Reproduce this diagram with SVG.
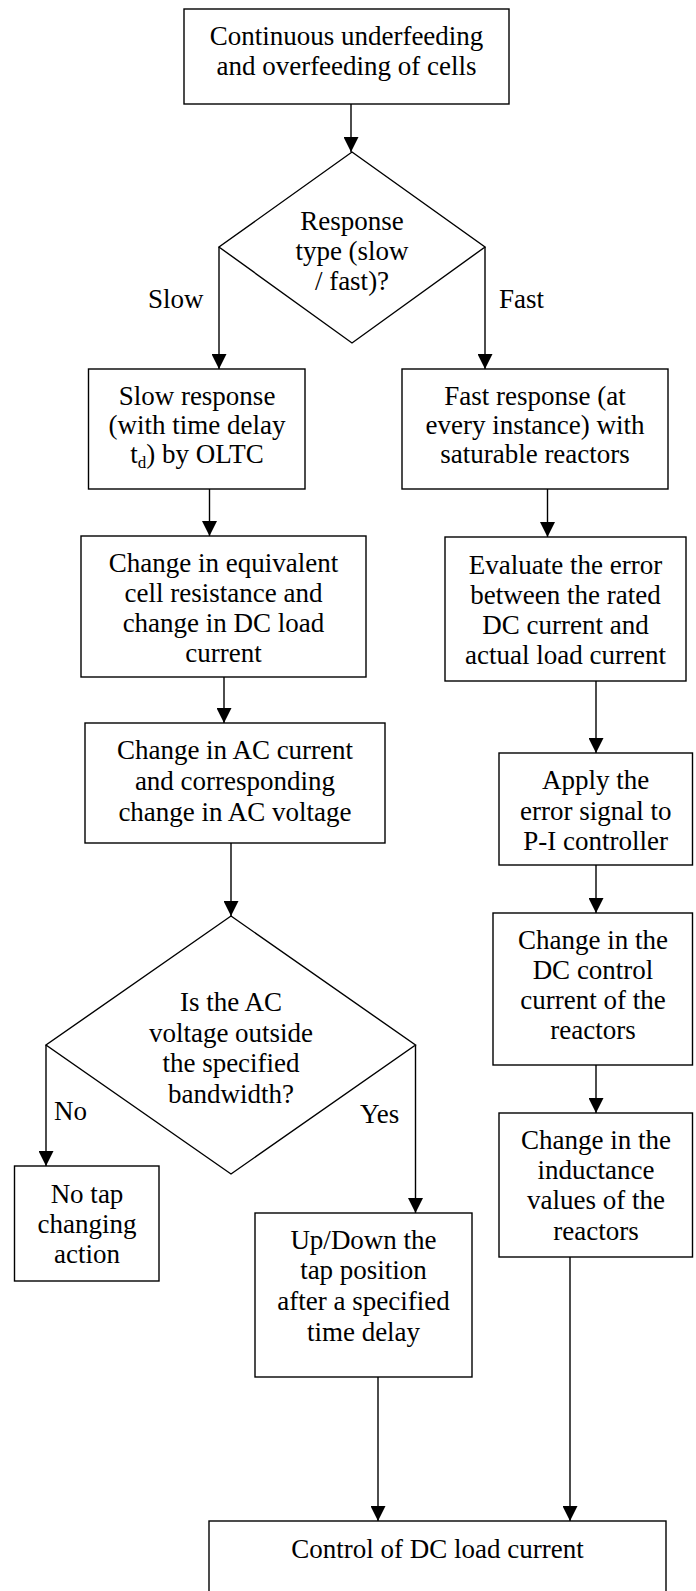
<svg xmlns="http://www.w3.org/2000/svg" width="696" height="1591" viewBox="0 0 696 1591">
<defs>
<marker id="arr" markerUnits="userSpaceOnUse" markerWidth="15" markerHeight="15" refX="15" refY="7.5" orient="auto">
<path d="M0,0 L15,7.5 L0,15 z" fill="#000"/>
</marker>
<style>
.box{fill:#fff;stroke:#000;stroke-width:1.4}
.t{font-family:"Liberation Serif","Times New Roman",serif;font-size:27px;fill:#000;text-anchor:middle}
.l{font-family:"Liberation Serif","Times New Roman",serif;font-size:27px;fill:#000}
.c{fill:none;stroke:#000;stroke-width:1.4}
</style>
</defs>
<rect width="696" height="1591" fill="#fff"/>
<g id="connectors">
<line class="c" x1="351" y1="104" x2="351" y2="152" marker-end="url(#arr)"/>
<line class="c" x1="219" y1="247" x2="219" y2="369" marker-end="url(#arr)"/>
<line class="c" x1="485" y1="247" x2="485" y2="369" marker-end="url(#arr)"/>
<line class="c" x1="209.5" y1="489" x2="209.5" y2="536" marker-end="url(#arr)"/>
<line class="c" x1="547.5" y1="489" x2="547.5" y2="537" marker-end="url(#arr)"/>
<line class="c" x1="224" y1="677" x2="224" y2="723" marker-end="url(#arr)"/>
<line class="c" x1="596" y1="681" x2="596" y2="753" marker-end="url(#arr)"/>
<line class="c" x1="231" y1="843" x2="231" y2="916" marker-end="url(#arr)"/>
<line class="c" x1="46" y1="1045" x2="46" y2="1166" marker-end="url(#arr)"/>
<line class="c" x1="415.5" y1="1045" x2="415.5" y2="1213" marker-end="url(#arr)"/>
<line class="c" x1="596" y1="865" x2="596" y2="913" marker-end="url(#arr)"/>
<line class="c" x1="596" y1="1065" x2="596" y2="1113" marker-end="url(#arr)"/>
<line class="c" x1="378" y1="1377" x2="378" y2="1521" marker-end="url(#arr)"/>
<line class="c" x1="570" y1="1257" x2="570" y2="1521" marker-end="url(#arr)"/>
<text class="l" x="148" y="308">Slow</text>
<text class="l" x="499" y="308">Fast</text>
<text class="l" x="54" y="1120">No</text>
<text class="l" x="360" y="1123">Yes</text>
</g>
<g id="start">
<rect class="box" x="184" y="9" width="325" height="95"/>
<text class="t" x="346.5" y="45">Continuous underfeeding</text>
<text class="t" x="346.5" y="75">and overfeeding of cells</text>
</g>
<g id="response-type">
<polygon class="box" points="352,152 485,247 352,343 219,247"/>
<text class="t" x="352" y="230">Response</text>
<text class="t" x="352" y="260">type (slow</text>
<text class="t" x="352" y="290">/ fast)?</text>
</g>
<g id="slow-response">
<rect class="box" x="88.5" y="369" width="216.5" height="120"/>
<text class="t" x="197" y="405">Slow response</text>
<text class="t" x="197" y="434">(with time delay</text>
<text class="t" x="197" y="463">t<tspan font-size="17" dy="5">d</tspan><tspan dy="-5">) by OLTC</tspan></text>
</g>
<g id="fast-response">
<rect class="box" x="402" y="369" width="266" height="120"/>
<text class="t" x="535" y="405">Fast response (at</text>
<text class="t" x="535" y="434">every instance) with</text>
<text class="t" x="535" y="463">saturable reactors</text>
</g>
<g id="equiv-resistance">
<rect class="box" x="81" y="536" width="285" height="141"/>
<text class="t" x="223.5" y="572">Change in equivalent</text>
<text class="t" x="223.5" y="602">cell resistance and</text>
<text class="t" x="223.5" y="632">change in DC load</text>
<text class="t" x="223.5" y="662">current</text>
</g>
<g id="evaluate-error">
<rect class="box" x="445" y="537" width="241" height="144"/>
<text class="t" x="565.5" y="574">Evaluate the error</text>
<text class="t" x="565.5" y="604">between the rated</text>
<text class="t" x="565.5" y="634">DC current and</text>
<text class="t" x="565.5" y="664">actual load current</text>
</g>
<g id="ac-current">
<rect class="box" x="85" y="723" width="300" height="120"/>
<text class="t" x="235" y="759">Change in AC current</text>
<text class="t" x="235" y="790">and corresponding</text>
<text class="t" x="235" y="821">change in AC voltage</text>
</g>
<g id="apply-error">
<rect class="box" x="499" y="753" width="193.5" height="112"/>
<text class="t" x="595.7" y="789">Apply the</text>
<text class="t" x="595.7" y="820">error signal to</text>
<text class="t" x="595.7" y="850">P-I controller</text>
</g>
<g id="bandwidth-check">
<polygon class="box" points="231,916 415.5,1045 231,1174 46,1045"/>
<text class="t" x="231" y="1011">Is the AC</text>
<text class="t" x="231" y="1042">voltage outside</text>
<text class="t" x="231" y="1072">the specified</text>
<text class="t" x="231" y="1103">bandwidth?</text>
</g>
<g id="dc-control">
<rect class="box" x="493" y="913" width="199.5" height="152"/>
<text class="t" x="593" y="949">Change in the</text>
<text class="t" x="593" y="979">DC control</text>
<text class="t" x="593" y="1009">current of the</text>
<text class="t" x="593" y="1039">reactors</text>
</g>
<g id="no-tap">
<rect class="box" x="14.5" y="1166" width="144.5" height="115"/>
<text class="t" x="87" y="1203">No tap</text>
<text class="t" x="87" y="1233">changing</text>
<text class="t" x="87" y="1263">action</text>
</g>
<g id="inductance">
<rect class="box" x="499" y="1113" width="193.5" height="144"/>
<text class="t" x="596" y="1149">Change in the</text>
<text class="t" x="596" y="1179">inductance</text>
<text class="t" x="596" y="1209">values of the</text>
<text class="t" x="596" y="1240">reactors</text>
</g>
<g id="tap-position">
<rect class="box" x="255" y="1213" width="217" height="164"/>
<text class="t" x="363.5" y="1249">Up/Down the</text>
<text class="t" x="363.5" y="1279">tap position</text>
<text class="t" x="363.5" y="1310">after a specified</text>
<text class="t" x="363.5" y="1341">time delay</text>
</g>
<g id="control-dc">
<rect class="box" x="209" y="1521" width="457" height="90"/>
<text class="t" x="437.5" y="1558">Control of DC load current</text>
</g>
</svg>
